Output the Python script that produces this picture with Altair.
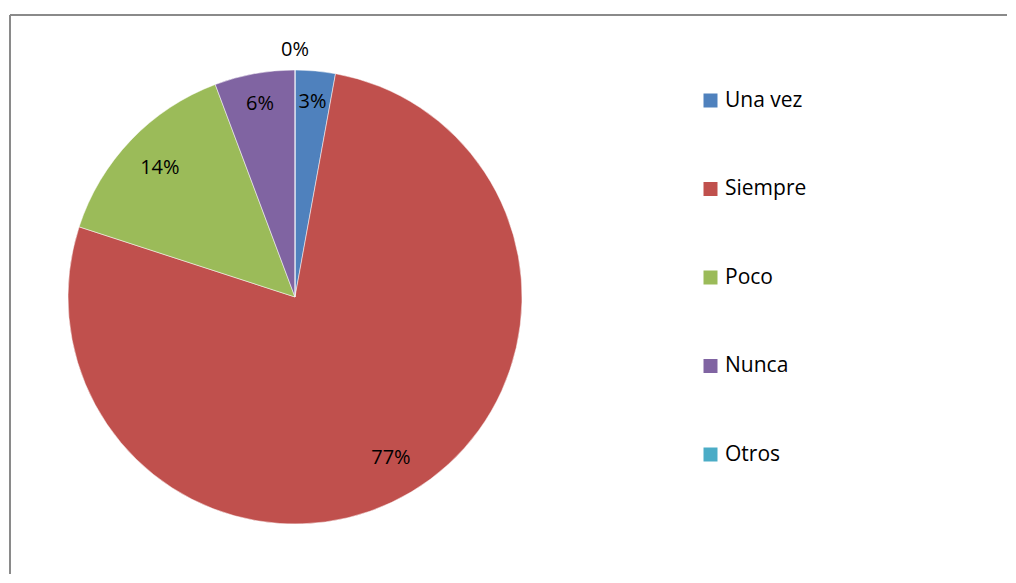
import altair as alt
import pandas as pd

categories = ["Una vez", "Siempre", "Poco", "Nunca", "Otros"]
counts = [1, 27, 5, 2, 0]
colors = ["#4F81BD", "#C0504D", "#9BBB59", "#8064A2", "#4BACC6"]

df = pd.DataFrame({"cat": categories, "n": counts, "idx": list(range(len(categories)))})

CX, CY, R = 284, 282, 227
W, H = 996, 559
FONT = "Open Sans"

base = alt.Chart(df).transform_joinaggregate(total="sum(n)").transform_window(
    cum="sum(n)", sort=[alt.SortField("idx")], frame=[None, 0]
).transform_calculate(
    mid="datum.cum - datum.n / 2",
    pct="round(datum.n / datum.total * 100) + '%'",
    rad="datum.n == 0 ? 247 : (datum.n / datum.total < 0.1 ? 196 : 187)",
)

pie = base.mark_arc(outerRadius=R, stroke="white", strokeWidth=0.5).encode(
    theta=alt.Theta("n:Q", stack=True),
    order=alt.Order("idx:Q"),
    color=alt.Color(
        "cat:N",
        scale=alt.Scale(domain=categories, range=colors),
        sort=categories,
        legend=alt.Legend(
            orient="none", legendX=689, legendY=75, title=None,
            symbolType="square", symbolSize=196, symbolStrokeWidth=0,
            labelFontSize=21, labelFont=FONT, labelColor="black",
            rowPadding=66.5, labelOffset=4, padding=0,
        ),
    ),
    x=alt.value(CX),
    y=alt.value(CY),
)

text = base.mark_text(fontSize=20, font=FONT, color="black").encode(
    theta=alt.Theta("mid:Q", stack=False),
    radius=alt.Radius("rad:Q", scale=None),
    text="pct:N",
    x=alt.value(CX),
    y=alt.value(CY),
)

frame_src = alt.Chart(pd.DataFrame({"k": [0]}))
top_line = frame_src.mark_rule(color="#8a8a8a", strokeWidth=2).encode(
    x=alt.value(-1), x2=alt.value(W), y=alt.value(0)
)
left_line = frame_src.mark_rule(color="#8a8a8a", strokeWidth=2).encode(
    x=alt.value(-1), y=alt.value(0), y2=alt.value(H)
)

chart = alt.layer(pie, text, top_line, left_line).properties(
    width=W, height=H,
    padding={"left": 1, "top": 6, "right": 0, "bottom": 0},
).configure_view(stroke=None)

chart.save("out.html", embed_options={"renderer": "svg", "actions": False})
